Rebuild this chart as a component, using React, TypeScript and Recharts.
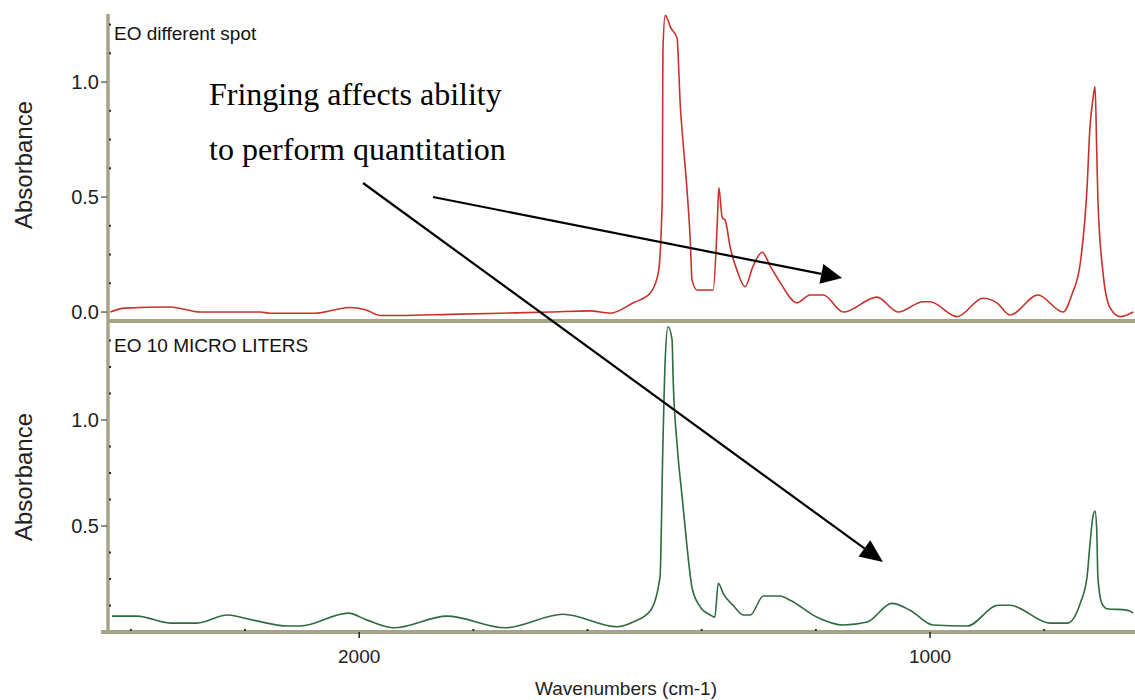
import { LineChart, Line, XAxis, YAxis } from "recharts";

// top spectrum (red) - wavenumber / absorbance
const redWn = [2436, 2410, 2331, 2278, 2173, 2156, 2077, 2042, 2016, 1989, 1963, 1928, 1841, 1753, 1666, 1595, 1560, 1520, 1490, 1476, 1469, 1468, 1464, 1461, 1455, 1443, 1441, 1438, 1433, 1426, 1420, 1417, 1408, 1380, 1373, 1370, 1364, 1359, 1350, 1338, 1324, 1310, 1294, 1280, 1263, 1233, 1210, 1187, 1152, 1093, 1056, 1012, 1000, 953, 907, 883, 860, 811, 767, 751, 737, 725, 720, 715, 711, 708, 706, 697, 685, 667, 644];
const redAbs = [0.0, 0.017, 0.022, 0.0, 0.0, -0.005, -0.005, 0.01, 0.02, 0.01, -0.015, -0.015, -0.01, -0.005, 0.0, 0.005, -0.005, 0.04, 0.083, 0.17, 0.5, 1.13, 1.29, 1.28, 1.24, 1.19, 1.1, 0.92, 0.75, 0.54, 0.31, 0.14, 0.096, 0.096, 0.37, 0.54, 0.41, 0.4, 0.28, 0.18, 0.11, 0.2, 0.26, 0.2, 0.13, 0.04, 0.074, 0.074, 0.0, 0.065, 0.0, 0.045, 0.045, -0.02, 0.06, 0.04, -0.013, 0.074, 0.0, 0.08, 0.21, 0.54, 0.8, 0.92, 0.98, 0.7, 0.49, 0.17, 0.02, -0.02, 0.0];

// bottom spectrum (green)
const greenWn = [2433, 2389, 2331, 2284, 2231, 2186, 2126, 2103, 2019, 1986, 1939, 1846, 1744, 1643, 1548, 1520, 1490, 1473, 1468, 1464, 1459, 1452, 1450, 1443, 1434, 1426, 1417, 1403, 1385, 1377, 1371, 1362, 1345, 1327, 1315, 1292, 1263, 1245, 1198, 1152, 1110, 1067, 1035, 995, 935, 881, 860, 790, 760, 737, 725, 720, 715, 711, 708, 706, 699, 690, 655, 644];
const greenAbs = [0.075, 0.075, 0.042, 0.042, 0.08, 0.056, 0.028, 0.028, 0.089, 0.056, 0.02, 0.075, 0.02, 0.084, 0.025, 0.047, 0.1, 0.26, 0.88, 1.28, 1.44, 1.38, 1.19, 0.88, 0.63, 0.41, 0.21, 0.12, 0.08, 0.07, 0.23, 0.18, 0.126, 0.08, 0.08, 0.17, 0.17, 0.15, 0.07, 0.033, 0.047, 0.135, 0.103, 0.033, 0.028, 0.126, 0.126, 0.042, 0.042, 0.135, 0.26, 0.41, 0.54, 0.57, 0.48, 0.26, 0.135, 0.11, 0.103, 0.09];

const xTicks = [2400, 2200, 2000, 1800, 1600, 1400, 1200, 1000, 800];
const xLabelled = [2000, 1000];
const topYTicks = [0, 0.125, 0.25, 0.375, 0.5, 0.625, 0.75, 0.875, 1.0, 1.125, 1.25];
const topYLabelled = [0, 0.5, 1.0];
const bottomYTicks = [0.125, 0.25, 0.375, 0.5, 0.625, 0.75, 0.875, 1.0, 1.125, 1.25, 1.375];
const bottomYLabelled = [0.5, 1.0];

const topData = redWn.map((wn, i) => ({ wn, abs: redAbs[i] }));
const bottomData = greenWn.map((wn, i) => ({ wn, abs: greenAbs[i] }));

const W = 1135;
const AXIS_X = 108;
const OLIVE = "#a6a487";
const SANS = "'Liberation Sans', Arial, sans-serif";
const SERIF = "'Liberation Serif', 'Times New Roman', serif";
const fmt = (v: number) => v.toFixed(1);

const makeYTick = (labelled: number[]) => (props: any) => {
  const { y, payload } = props;
  const v = payload.value;
  if (labelled.includes(v)) {
    return (
      <g>
        <line x1={101} x2={107} y1={y} y2={y} stroke="#222" strokeWidth={1} />
        <text x={99} y={y} textAnchor="end" dominantBaseline="central" fontSize={20} fontFamily={SANS} fill="#222">
          {fmt(v)}
        </text>
      </g>
    );
  }
  return <rect x={109} y={y - 1} width={2} height={2} fill="#333" />;
};

const makeXTick = (axisY: number) => (props: any) => {
  const { x, payload } = props;
  const v = payload.value;
  if (xLabelled.includes(v)) {
    return (
      <g>
        <line x1={x} x2={x} y1={axisY} y2={axisY + 6} stroke="#222" strokeWidth={1.5} />
        <text x={x} y={axisY + 24} textAnchor="middle" dominantBaseline="central" fontSize={19} fontFamily={SANS} fill="#222">
          {v}
        </text>
      </g>
    );
  }
  return <rect x={x - 1} y={axisY - 3} width={2} height={2} fill="#333" />;
};

const arrow = (x1: number, y1: number, x2: number, y2: number, len: number, half: number) => {
  const L = Math.hypot(x2 - x1, y2 - y1);
  const ux = (x2 - x1) / L;
  const uy = (y2 - y1) / L;
  const bx = x2 - ux * len;
  const by = y2 - uy * len;
  const pts = `${x2},${y2} ${bx - uy * half},${by + ux * half} ${bx + uy * half},${by - ux * half}`;
  return (
    <g>
      <line x1={x1} y1={y1} x2={bx} y2={by} stroke="#000" strokeWidth={2.2} />
      <polygon points={pts} fill="#000" />
    </g>
  );
};

export default function App() {
  return (
    <div style={{ position: "absolute", left: 0, top: 0, width: W, height: 700, background: "#fff" }}>
      <div style={{ position: "absolute", left: 0, top: 0 }}>
        <LineChart width={W} height={323} data={topData} margin={{ top: 14, right: 0, left: 0, bottom: 0 }}>
          <XAxis
            dataKey="wn"
            type="number"
            domain={[641, 2440]}
            reversed
            height={2}
            tick={false}
            tickLine={false}
            axisLine={{ stroke: OLIVE, strokeWidth: 4 }}
            allowDataOverflow
          />
          <YAxis
            type="number"
            domain={[-0.039, 1.296]}
            width={AXIS_X}
            ticks={topYTicks}
            interval={0}
            tickLine={false}
            tick={makeYTick(topYLabelled)}
            axisLine={{ stroke: OLIVE, strokeWidth: 3.5 }}
            allowDataOverflow
          />
          <Line type="monotone" dataKey="abs" stroke="#c8322c" strokeWidth={1.6} dot={false} isAnimationActive={false} />
        </LineChart>
      </div>
      <div style={{ position: "absolute", left: 0, top: 321 }}>
        <LineChart width={W} height={379} data={bottomData} margin={{ top: 0, right: 0, left: 0, bottom: 28 }}>
          <XAxis
            dataKey="wn"
            type="number"
            domain={[641, 2440]}
            reversed
            height={40}
            ticks={xTicks}
            interval={0}
            tickLine={false}
            tick={makeXTick(311)}
            axisLine={{ stroke: OLIVE, strokeWidth: 4 }}
            allowDataOverflow
          />
          <YAxis
            type="number"
            domain={[0, 1.467]}
            width={AXIS_X}
            ticks={bottomYTicks}
            interval={0}
            tickLine={false}
            tick={makeYTick(bottomYLabelled)}
            axisLine={{ stroke: OLIVE, strokeWidth: 3.5 }}
            allowDataOverflow
          />
          <Line type="monotone" dataKey="abs" stroke="#2f6b3f" strokeWidth={1.6} dot={false} isAnimationActive={false} />
        </LineChart>
      </div>
      <svg width={W} height={700} style={{ position: "absolute", left: 0, top: 0, pointerEvents: "none" }}>
        <line x1={101} x2={108} y1={632} y2={632} stroke={OLIVE} strokeWidth={4} />
        <text x={114} y={40} fontSize={19} fontFamily={SANS} fill="#111">EO different spot</text>
        <text x={114} y={352} fontSize={19} fontFamily={SANS} fill="#111">EO 10 MICRO LITERS</text>
        <text transform="translate(32,165) rotate(-90)" textAnchor="middle" fontSize={24} fontFamily={SANS} fill="#222">Absorbance</text>
        <text transform="translate(32,477) rotate(-90)" textAnchor="middle" fontSize={24} fontFamily={SANS} fill="#222">Absorbance</text>
        <text x={626} y={695} textAnchor="middle" fontSize={19} fontFamily={SANS} fill="#222">Wavenumbers (cm-1)</text>
        <text x={209} y={105} fontSize={32} fontFamily={SERIF} fill="#000">Fringing affects ability</text>
        <text x={209} y={160} fontSize={32} fontFamily={SERIF} fill="#000">to perform quantitation</text>
        {arrow(433, 197, 842, 278, 21, 10)}
        {arrow(363, 183, 883, 562, 23, 10)}
      </svg>
    </div>
  );
}
